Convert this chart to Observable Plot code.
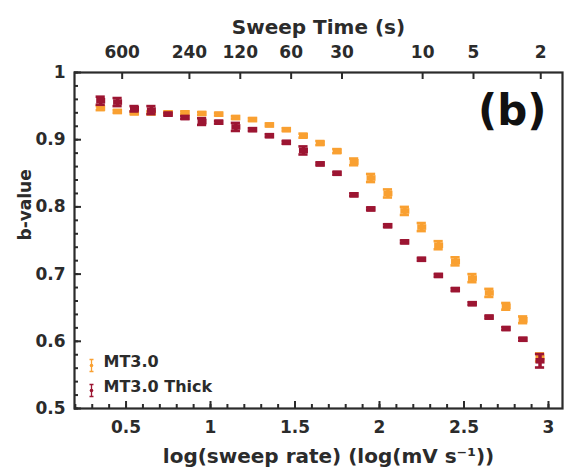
<!DOCTYPE html>
<html><head><meta charset="utf-8">
<script src="https://cdn.jsdelivr.net/npm/d3@7"></script>
<script src="https://cdn.jsdelivr.net/npm/@observablehq/plot@0.6"></script>
<style>body{margin:0;background:#fff}#chart svg{display:block}#chart svg text{font-weight:bold}</style>
</head><body><div id="chart"></div>
<script>
// ---- data ----
const logRate = [0.35,0.45,0.55,0.65,0.75,0.85,0.95,1.05,1.15,1.25,1.35,1.45,1.55,1.65,1.75,1.85,1.95,2.05,2.15,2.25,2.35,2.45,2.55,2.65,2.75,2.85,2.95];
const mt30 = [0.947,0.942,0.940,0.940,0.940,0.940,0.939,0.938,0.933,0.930,0.922,0.915,0.906,0.895,0.883,0.867,0.843,0.820,0.794,0.770,0.743,0.719,0.694,0.672,0.652,0.632,0.576];
const mt30Err = [0.003,0.002,0.002,0.002,0.002,0.002,0.002,0.002,0.002,0.002,0.002,0.002,0.003,0.003,0.003,0.005,0.006,0.006,0.006,0.006,0.006,0.006,0.006,0.006,0.005,0.005,0.006];
const thick = [0.958,0.956,0.946,0.944,0.938,0.933,0.927,0.926,0.919,0.915,0.906,0.896,0.884,0.864,0.850,0.818,0.797,0.772,0.748,0.722,0.698,0.677,0.656,0.636,0.619,0.603,0.571];
const thickErr = [0.006,0.006,0.004,0.006,0.002,0.002,0.005,0.002,0.006,0.002,0.002,0.002,0.006,0.002,0.002,0.002,0.002,0.002,0.002,0.002,0.002,0.002,0.002,0.002,0.002,0.002,0.010];
const seriesNames = ["MT3.0", "MT3.0 Thick"];
const seriesColors = ["#F9A031", "#9C1532"];
const yTicks = [0.5, 0.6, 0.7, 0.8, 0.9, 1];
const xTicks = [0.5, 1, 1.5, 2, 2.5, 3];
const sweepTimes = [600, 240, 120, 60, 30, 10, 5, 2];   // top axis labels (s)
const potentialWindow = 1800;                          // mV, sweep time = window / rate

// ---- layout ----
const W = 565, H = 476, mL = 74, mR = 3, mT = 72, mB = 68;
const fw = W - mL - mR, fh = H - mT - mB;
const ink = "#2b2b2b";
const font = "'DejaVu Sans', Verdana, sans-serif";
const capHalf = 4.6 / 169;

const rows = (ys, es, s) => logRate.map((x, i) => ({s, x, y: ys[i], e: es[i]}));
const series = [rows(mt30, mt30Err, seriesNames[0]), rows(thick, thickErr, seriesNames[1])];

const rectSym = {draw(ctx) {ctx.moveTo(-4.5, -2.8); ctx.lineTo(4.5, -2.8); ctx.lineTo(4.5, 2.8); ctx.lineTo(-4.5, 2.8); ctx.closePath();}};
const barSym = {draw(ctx) {ctx.moveTo(-2, -6); ctx.lineTo(2, -6); ctx.moveTo(0, -6); ctx.lineTo(0, 6); ctx.moveTo(-2, 6); ctx.lineTo(2, 6);}};

const yMinor = d3.range(0.5, 1.0001, 0.02).map(v => +v.toFixed(2));
const xMinor = d3.range(0.2, 3.0001, 0.1).map(v => +v.toFixed(1));
const topPos = sweepTimes.map(t => Math.log10(potentialWindow / t));

const dataMarks = series.flatMap(d => [
  Plot.ruleX(d, {x: "x", y1: r => r.y - r.e, y2: r => r.y + r.e, stroke: "s", strokeWidth: 3.5}),
  Plot.ruleY(d, {y: r => r.y + r.e, x1: r => r.x - capHalf, x2: r => r.x + capHalf, stroke: "s", strokeWidth: 2.6}),
  Plot.ruleY(d, {y: r => r.y - r.e, x1: r => r.x - capHalf, x2: r => r.x + capHalf, stroke: "s", strokeWidth: 2.6}),
  Plot.dot(d, {x: "x", y: "y", fill: "s", symbol: rectSym})
]);

const legendMarks = seriesNames.flatMap((name, i) => [
  Plot.dot([name], {frameAnchor: "bottom-left", dx: 17, dy: -43 + i * 25, symbol: barSym, stroke: seriesColors[i], fill: "none", strokeWidth: 1.3}),
  Plot.dot([name], {frameAnchor: "bottom-left", dx: 17, dy: -43 + i * 25, r: 1.8, fill: seriesColors[i]}),
  Plot.text([name], {frameAnchor: "bottom-left", dx: 29, dy: -42 + i * 25, textAnchor: "start", fontSize: 16, fill: ink})
]);

const chart = Plot.plot({
  width: W, height: H,
  marginLeft: mL, marginRight: mR, marginTop: mT, marginBottom: mB,
  style: {fontFamily: font, fontWeight: "bold", color: ink, background: "#fff"},
  x: {domain: [0.195, 3.083]},
  y: {domain: [0.5, 1]},
  color: {domain: seriesNames, range: seriesColors},
  marks: [
    ...dataMarks,
    Plot.axisY({ticks: yTicks, tickSize: 0, tickPadding: 9, tickFormat: d => String(d), fontSize: 17, label: null}),
    Plot.axisX({anchor: "bottom", ticks: xTicks, tickSize: 0, tickPadding: 12, tickFormat: d => String(d), fontSize: 17, label: null}),
    Plot.text(sweepTimes, {x: (t, i) => topPos[i], text: t => String(t), frameAnchor: "top", lineAnchor: "bottom", dy: -15, fontSize: 17, fill: ink}),
    Plot.tickY(yTicks, {y: d => d, insetRight: fw - 7, stroke: ink, strokeWidth: 2}),
    Plot.tickY(yMinor, {y: d => d, insetRight: fw - 4, stroke: ink, strokeWidth: 2}),
    Plot.tickX(xTicks, {x: d => d, insetTop: fh - 7, stroke: ink, strokeWidth: 2}),
    Plot.tickX(xMinor, {x: d => d, insetTop: fh - 4, stroke: ink, strokeWidth: 2}),
    Plot.tickX(topPos, {x: d => d, insetBottom: fh - 7, stroke: ink, strokeWidth: 2}),
    Plot.frame({stroke: ink, strokeWidth: 2.2}),
    Plot.text(["Sweep Time (s)"], {frameAnchor: "top", dy: -53, fontSize: 20, fill: ink}),
    Plot.text(["log(sweep rate) (log(mV s⁻¹))"], {frameAnchor: "bottom", dy: 54, dx: 10, fontSize: 20, fill: ink}),
    Plot.text(["b-value"], {frameAnchor: "left", dx: -49, dy: 0, rotate: -90, fontSize: 17, fill: ink}),
    Plot.text(["(b)"], {frameAnchor: "top-right", dx: -16, dy: 23, textAnchor: "end", fontSize: 42, fill: "#111"}),
    ...legendMarks
  ]
});
document.getElementById("chart").appendChild(chart);
</script>
</body></html>
